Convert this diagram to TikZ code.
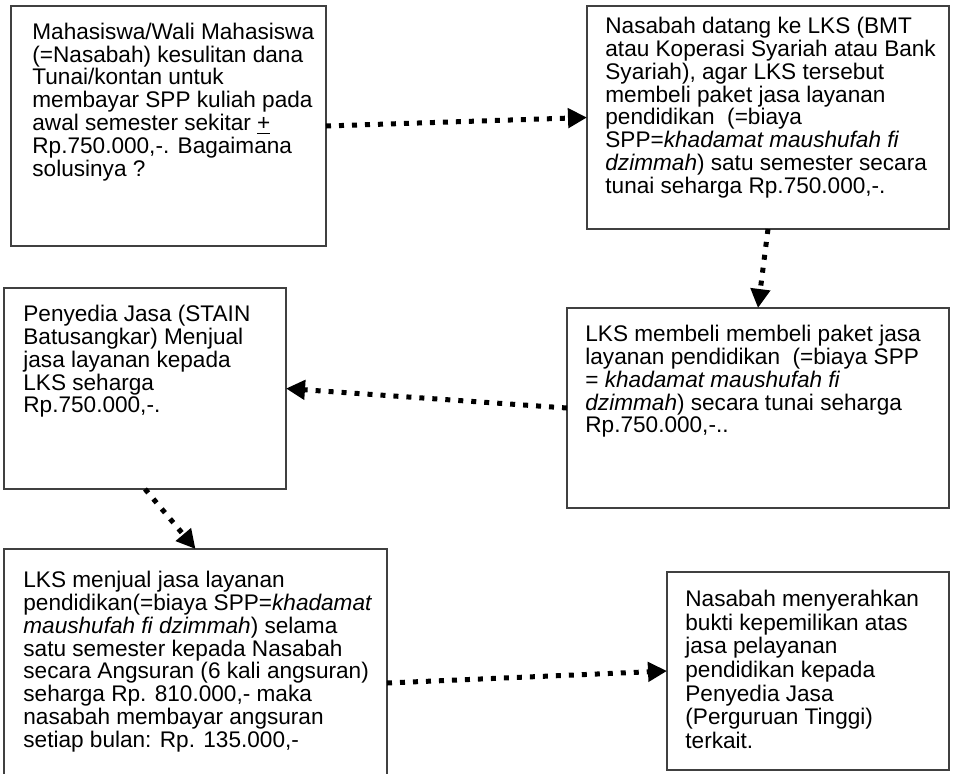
\documentclass[tikz,border=0pt]{standalone}
\usepackage{fontspec}
\setmainfont{Liberation Sans}
\usetikzlibrary{positioning,arrows.meta}

\begin{document}
\begin{tikzpicture}
  [x=0.5pt, y=-0.5pt,
   kotakN/.style={draw=black!75, line width=0.6pt, anchor=north west,
     inner sep=0pt, outer sep=0pt},
   teksN/.style={inner sep=0pt, align=left,
     font=\fontsize{11.3pt}{11.4pt}\selectfont},
   panahT/.style={line width=2.5pt, dash pattern=on 2.5pt off 4pt,
     -{Triangle[length=9.5pt,width=9.5pt]}},
  ]
 \useasboundingbox (0,0) rectangle (955,773);

 % kotak-kotak
 \node[kotakN, minimum width=157.5pt, minimum height=120pt]   (mhs) at (11,6) {};
 \node[kotakN, minimum width=181pt,   minimum height=111.5pt] (lks) at (587,6) {};
 \node[kotakN, minimum width=191pt,   minimum height=100pt]   (beli) at (567,308) {};
 \node[kotakN, minimum width=141pt,   minimum height=100.5pt] (stain) at (4,288) {};
 \node[kotakN, minimum width=191.5pt, minimum height=134pt]   (jual) at (4,549) {};
 \node[kotakN, minimum width=141pt,   minimum height=99pt]    (bukti) at (667,572) {};

 % isi teks
 \node[teksN, below right=8.3pt and 10.5pt of mhs.north west] (mhsT)
   {Mahasiswa/Wali Mahasiswa\\(=Nasabah) kesulitan dana\\Tunai/kontan untuk\\
    membayar SPP kuliah pada\\awal semester sekitar \underline{+}\\
    Rp.750.000,-. Bagaimana\\solusinya ?};
 \node[teksN, below right=5.5pt and 9pt of lks.north west] (lksT)
   {Nasabah datang ke LKS (BMT\\atau Koperasi Syariah atau Bank\\
    Syariah), agar LKS tersebut\\membeli paket jasa layanan\\
    pendidikan~ (=biaya\\SPP=\textit{khadamat maushufah fi}\\
    \textit{dzimmah}) satu semester secara\\tunai seharga Rp.750.000,-.};
 \node[teksN, below right=8.5pt and 9pt of beli.north west] (beliT)
   {LKS membeli membeli paket jasa\\layanan pendidikan~ (=biaya SPP\\
    = \textit{khadamat maushufah fi}\\\textit{dzimmah}) secara tunai seharga\\
    Rp.750.000,-..};
 \node[teksN, below right=8.5pt and 9.5pt of stain.north west] (stainT)
   {Penyedia Jasa (STAIN\\Batusangkar) Menjual\\jasa layanan kepada\\
    LKS seharga\\Rp.750.000,-.};
 \node[teksN, below right=11pt and 9.5pt of jual.north west] (jualT)
   {LKS menjual jasa layanan\\pendidikan(=biaya SPP=\textit{khadamat}\\
    \textit{maushufah fi dzimmah}) selama\\satu semester kepada Nasabah\\
    secara Angsuran (6 kali angsuran)\\seharga Rp. 810.000,- maka\\
    nasabah membayar angsuran\\setiap bulan: Rp. 135.000,-};
 \node[teksN, font=\fontsize{11.3pt}{11.8pt}\selectfont,
   below right=9pt and 9pt of bukti.north west] (buktiT)
   {Nasabah menyerahkan\\bukti kepemilikan atas\\jasa pelayanan\\
    pendidikan kepada\\Penyedia Jasa\\(Perguruan Tinggi)\\terkait.};

 % panah
 \draw[panahT] (mhs.east) -- (lks.west);
 \draw[panahT] (lks.south) -- (beli.north);
 \draw[panahT] (beli.west) -- (stain.east);
 \draw[panahT] (stain.south) -- (jual.north);
 \draw[panahT] (jual.east) -- (bukti.west);
\end{tikzpicture}
\end{document}
